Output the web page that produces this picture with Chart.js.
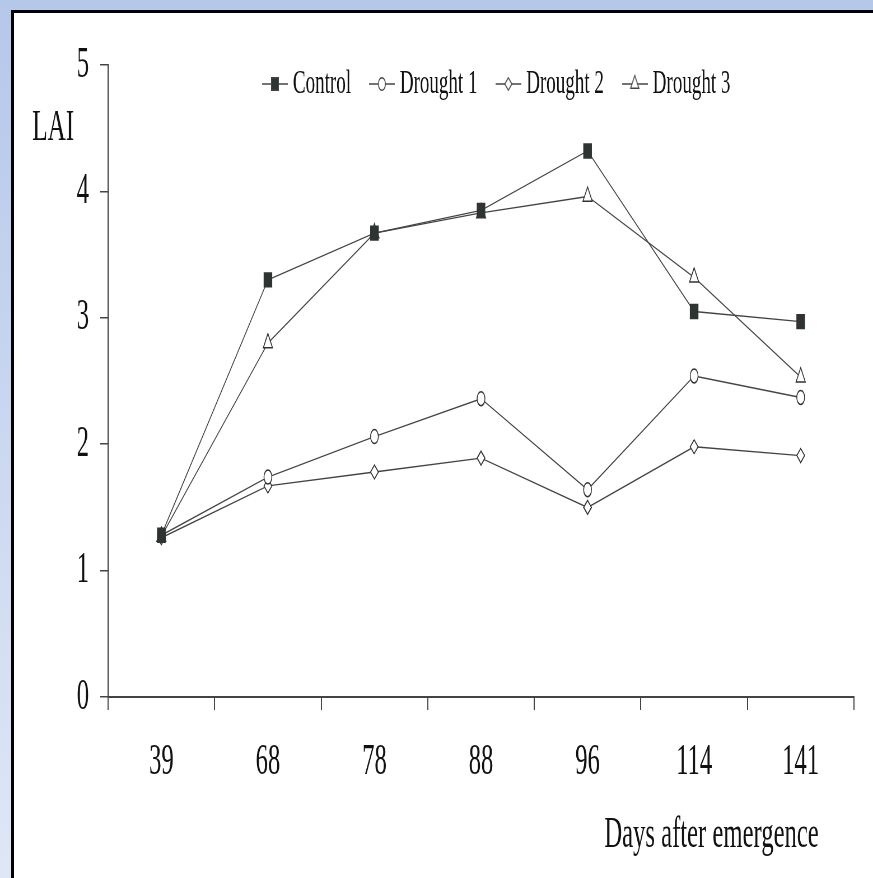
<!DOCTYPE html>
<html>
<head>
<meta charset="utf-8">
<script src="https://cdn.jsdelivr.net/npm/chart.js@4.4.1/dist/chart.umd.min.js"></script>
<style>
  html, body { margin: 0; padding: 0; overflow: hidden; background: #fff; }
  body { width: 873px; height: 878px; position: relative; }
  .strip { position: absolute; background: linear-gradient(#b5c8ea, #dfe7f6); }
  #stripTop { left: 0; top: 0; width: 873px; height: 10px; background: #b5c8ea; }
  #stripLeft { left: 0; top: 0; width: 11px; height: 878px; }
  #frame {
    position: absolute; left: 11px; top: 10px; width: 862px; height: 868px;
    box-sizing: border-box; background: #fff;
    border-left: 3px solid #000; border-top: 3px solid #000;
  }
  #lai { position: absolute; left: 0; top: 0; }
</style>
</head>
<body>
<div class="strip" id="stripTop"></div>
<div class="strip" id="stripLeft"></div>
<div id="frame"></div>
<!-- drawn wide then squeezed to 873px, the source figure is condensed horizontally -->
<canvas id="lai" width="1559" height="878" style="width:873px;height:878px"></canvas>
<script>
// data
const days = ['39', '68', '78', '88', '96', '114', '141'];
const control  = [1.28, 3.30, 3.67, 3.85, 4.32, 3.05, 2.97];
const drought1 = [1.28, 1.74, 2.06, 2.36, 1.64, 2.54, 2.37];
const drought2 = [1.26, 1.67, 1.78, 1.89, 1.50, 1.98, 1.91];
const drought3 = [1.27, 2.80, 3.67, 3.83, 3.96, 3.32, 2.53];
const seriesNames = ['Control', 'Drought 1', 'Drought 2', 'Drought 3'];
const yMin = 0, yMax = 5, yStep = 1;
const yTitle = 'LAI';
const xTitle = 'Days after emergence';

const ink = '#444';
const serif = '"Liberation Serif", "Times New Roman", serif';
Chart.defaults.font.family = serif;
Chart.defaults.color = '#111';

const markers = [
  { style: 'rect', radius: 9.8, fill: '#2d3434' },
  { style: 'circle', radius: 7, fill: '#fff' },
  { style: 'rectRot', radius: 7, fill: '#fff' },
  { style: 'triangle', radius: 9.5, fill: '#fff' }
];

// little "-o-" pictures for the legend
function legendIcon(m) {
  const drawPoint = Chart.helpers && Chart.helpers.drawPoint;
  if (!drawPoint) return m.style;
  const c = document.createElement('canvas');
  c.width = 46; c.height = 24;
  const g = c.getContext('2d');
  g.strokeStyle = ink;
  g.lineWidth = 1.5;
  g.beginPath(); g.moveTo(0, 12); g.lineTo(46, 12); g.stroke();
  g.fillStyle = m.fill;
  drawPoint(g, { pointStyle: m.style, radius: m.radius * 0.9, borderWidth: 1.5, rotation: 0 }, 23, 12);
  return c;
}
const icons = markers.map(legendIcon);

const values = [control, drought1, drought2, drought3];
const datasets = values.map((v, i) => ({
  label: seriesNames[i],
  data: v,
  borderColor: ink,
  borderWidth: 1.4,
  pointStyle: markers[i].style,
  pointRadius: markers[i].radius,
  pointBackgroundColor: markers[i].fill,
  pointBorderColor: '#333',
  pointBorderWidth: 1.5,
  tension: 0
}));

// legend sits inside the plot, move it after layout
const placeLegend = {
  id: 'placeLegend',
  afterLayout(chart) {
    const lg = chart.legend;
    const w = lg.width, h = lg.height;
    lg.left = 436; lg.right = 436 + w;
    lg.top = 27; lg.bottom = 27 + h;
  }
};

// unrotated axis titles like in the figure
const axisTitles = {
  id: 'axisTitles',
  afterDraw(chart) {
    const ctx = chart.ctx;
    const area = chart.chartArea;
    ctx.save();
    ctx.fillStyle = '#111';
    ctx.textBaseline = 'alphabetic';
    ctx.font = '45px ' + serif;
    ctx.textAlign = 'center';
    ctx.fillText(yTitle, 95, area.top + 75);
    ctx.font = '44px ' + serif;
    ctx.textAlign = 'right';
    ctx.fillText(xTitle, area.right - 63, area.bottom + 150);
    ctx.restore();
  }
};

new Chart(document.getElementById('lai'), {
  type: 'line',
  data: { labels: days, datasets: datasets },
  options: {
    responsive: false,
    devicePixelRatio: 1,
    animation: false,
    events: [],
    layout: { padding: { top: 65, left: 0, right: 34, bottom: 0 } },
    scales: {
      x: {
        offset: true,
        afterFit: s => { s.height = 181 - (s.chart.legend ? s.chart.legend.height : 0); },
        grid: { offset: true, drawOnChartArea: false, tickLength: 13, color: ink, lineWidth: 2 },
        border: { display: true, color: ink, width: 2 },
        ticks: { font: { size: 44 }, padding: 26, color: '#111', maxRotation: 0 }
      },
      y: {
        min: yMin, max: yMax,
        afterFit: s => { s.width = 193; },
        grid: { drawOnChartArea: false, tickLength: 14, color: ink, lineWidth: 1.5 },
        border: { display: true, color: ink, width: 2.4 },
        ticks: { stepSize: yStep, font: { size: 44 }, padding: 20, color: '#111' }
      }
    },
    plugins: {
      tooltip: { enabled: false },
      legend: {
        position: 'bottom',
        align: 'start',
        labels: {
          usePointStyle: true,
          pointStyleWidth: 30,
          padding: 40,
          color: '#111',
          font: { size: 34 },
          generateLabels: chart => Chart.defaults.plugins.legend.labels.generateLabels(chart)
            .map((item, i) => Object.assign(item, { pointStyle: icons[i] }))
        }
      }
    }
  },
  plugins: [placeLegend, axisTitles]
});
</script>
</body>
</html>
